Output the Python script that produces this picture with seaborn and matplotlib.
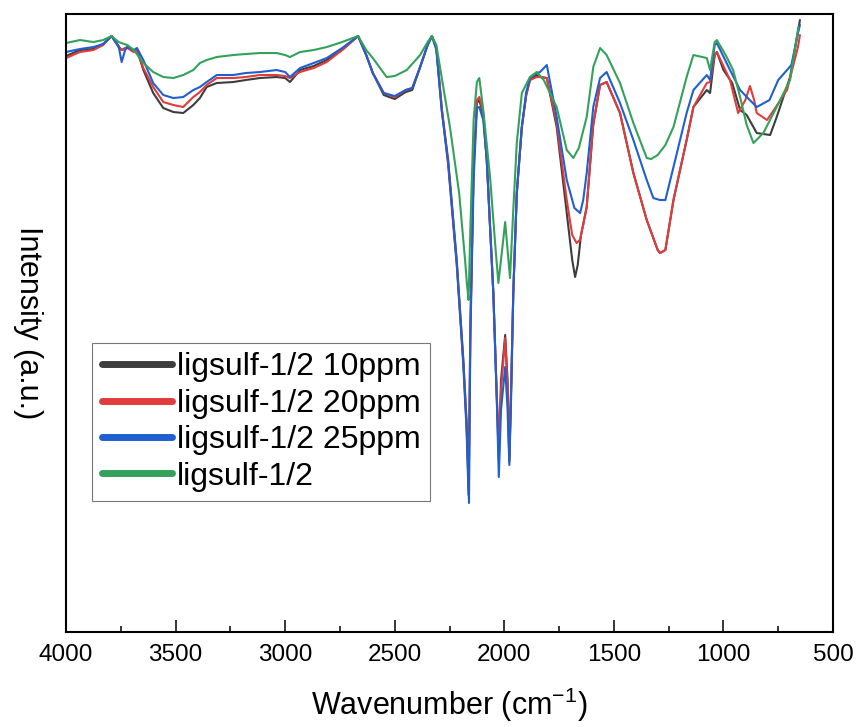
import matplotlib
matplotlib.use('Agg')
import matplotlib.pyplot as plt
import seaborn as sns
import pandas as pd
from matplotlib.ticker import MultipleLocator

# FTIR spectra (wavenumber in cm-1, transmittance in arbitrary units)
wn_10ppm = [4000, 3936, 3875, 3830, 3792, 3760, 3746, 3720, 3690, 3676, 3647, 3602, 3556, 3510, 3465, 3419,
            3389, 3358, 3312, 3237, 3180, 3115, 3039, 3000, 2978, 2932, 2870, 2810, 2740, 2667, 2630, 2600,
            2550, 2500, 2450, 2420, 2384, 2350, 2330, 2310, 2285, 2256, 2217, 2187, 2172, 2163, 2155, 2140,
            2125, 2114, 2096, 2080, 2050, 2035, 2025, 2015, 1996, 1985, 1977, 1968, 1959, 1943, 1920, 1900,
            1883, 1852, 1837, 1806, 1761, 1715, 1690, 1677, 1665, 1650, 1624, 1594, 1563, 1533, 1472, 1411,
            1350, 1300, 1289, 1265, 1228, 1168, 1137, 1076, 1061, 1040, 1030, 1000, 960, 924, 894, 848,
            787, 757, 696, 651]
t_10ppm = [576, 582, 583, 588, 596, 585, 582, 585, 580, 582, 562, 539, 524, 520, 519, 527,
           534, 545, 549, 550, 552, 554, 555, 554, 550, 562, 566, 572, 582, 596, 577, 559,
           537, 533, 540, 542, 565, 587, 596, 584, 522, 467, 367, 267, 202, 137, 302, 467,
           529, 532, 517, 472, 339, 239, 172, 252, 297, 252, 172, 252, 339, 439, 505, 537,
           552, 557, 555, 554, 505, 419, 372, 355, 367, 397, 425, 507, 547, 550, 519, 459,
           412, 382, 379, 382, 432, 492, 525, 542, 539, 577, 580, 562, 549, 522, 517, 499,
           497, 515, 555, 612]

wn_20ppm = [4000, 3936, 3875, 3830, 3792, 3760, 3746, 3720, 3690, 3676, 3647, 3602, 3556, 3510, 3465, 3419,
            3389, 3358, 3312, 3237, 3180, 3115, 3039, 3000, 2978, 2932, 2870, 2810, 2740, 2667, 2630, 2600,
            2550, 2500, 2450, 2420, 2384, 2350, 2330, 2310, 2285, 2256, 2217, 2187, 2172, 2162, 2155, 2140,
            2125, 2114, 2096, 2080, 2050, 2035, 2025, 2015, 1996, 1985, 1977, 1968, 1959, 1943, 1920, 1900,
            1883, 1852, 1837, 1806, 1761, 1715, 1690, 1670, 1655, 1640, 1624, 1594, 1563, 1533, 1472, 1411,
            1350, 1300, 1289, 1265, 1228, 1168, 1137, 1076, 1061, 1040, 1030, 970, 933, 900, 879, 860,
            848, 801, 770, 710, 660, 651]
t_20ppm = [574, 580, 582, 587, 596, 586, 582, 584, 580, 582, 564, 545, 530, 527, 525, 535,
           540, 547, 554, 554, 555, 557, 557, 556, 554, 560, 564, 570, 582, 596, 577, 559,
           539, 535, 542, 544, 565, 587, 596, 584, 524, 470, 370, 272, 212, 147, 302, 462,
           532, 535, 520, 472, 339, 239, 192, 242, 294, 242, 170, 252, 339, 439, 505, 537,
           552, 555, 555, 554, 509, 432, 397, 389, 392, 407, 425, 509, 547, 550, 519, 459,
           412, 382, 379, 382, 432, 492, 525, 549, 550, 577, 580, 552, 519, 532, 546, 532,
           519, 512, 522, 542, 585, 597]

wn_25ppm = [4000, 3936, 3875, 3830, 3792, 3760, 3746, 3730, 3720, 3690, 3676, 3647, 3602, 3556, 3510, 3465,
            3419, 3389, 3358, 3312, 3237, 3180, 3115, 3039, 3000, 2978, 2932, 2870, 2810, 2740, 2667, 2630,
            2600, 2550, 2500, 2450, 2420, 2384, 2350, 2330, 2310, 2285, 2256, 2217, 2187, 2172, 2161, 2155,
            2140, 2125, 2114, 2096, 2080, 2050, 2035, 2025, 2015, 1996, 1985, 1977, 1968, 1959, 1943, 1920,
            1900, 1883, 1852, 1837, 1806, 1761, 1715, 1680, 1654, 1640, 1624, 1594, 1563, 1533, 1472, 1411,
            1350, 1320, 1290, 1265, 1228, 1168, 1137, 1076, 1061, 1040, 1030, 970, 924, 880, 848, 790,
            750, 690, 660, 651]
t_25ppm = [580, 583, 585, 588, 596, 586, 570, 582, 585, 582, 584, 572, 549, 537, 534, 535,
           542, 545, 550, 557, 557, 559, 560, 562, 560, 555, 564, 569, 574, 584, 596, 577,
           559, 539, 536, 542, 544, 565, 587, 596, 582, 520, 472, 372, 272, 207, 129, 292,
           452, 524, 525, 512, 472, 339, 239, 155, 222, 265, 222, 167, 242, 339, 439, 505,
           540, 554, 559, 560, 567, 515, 452, 424, 419, 432, 459, 525, 554, 560, 529, 492,
           452, 434, 432, 432, 465, 519, 542, 557, 552, 587, 589, 562, 542, 532, 525, 532,
           552, 567, 599, 607]

wn_blank = [4000, 3936, 3875, 3830, 3792, 3760, 3720, 3690, 3647, 3602, 3556, 3510, 3465, 3419, 3389, 3358,
            3312, 3237, 3180, 3115, 3039, 3000, 2978, 2932, 2870, 2810, 2740, 2667, 2630, 2600, 2537, 2500,
            2445, 2384, 2350, 2331, 2310, 2280, 2248, 2206, 2179, 2170, 2163, 2155, 2140, 2125, 2114, 2096,
            2065, 2042, 2027, 2010, 1996, 1985, 1974, 1959, 1943, 1920, 1883, 1852, 1820, 1761, 1715, 1685,
            1660, 1624, 1594, 1563, 1533, 1472, 1411, 1350, 1330, 1300, 1265, 1228, 1168, 1137, 1076, 1061,
            1040, 1030, 990, 956, 924, 894, 863, 818, 757, 696, 658]
t_blank = [589, 592, 590, 592, 596, 590, 587, 582, 569, 560, 555, 554, 557, 562, 569, 572,
           575, 577, 578, 579, 579, 577, 575, 580, 582, 585, 590, 596, 582, 574, 555, 556,
           562, 577, 590, 596, 587, 547, 505, 439, 372, 347, 332, 402, 512, 550, 554, 522,
           455, 389, 349, 382, 410, 382, 354, 422, 489, 539, 555, 560, 552, 525, 482, 474,
           484, 515, 565, 584, 577, 549, 509, 474, 473, 477, 487, 505, 555, 577, 574, 562,
           590, 592, 577, 562, 535, 507, 489, 499, 525, 552, 605]

labels = ['ligsulf-1/2 10ppm', 'ligsulf-1/2 20ppm', 'ligsulf-1/2 25ppm', 'ligsulf-1/2']
colors = ['#3d3d3d', '#e23b3b', '#1f5fcf', '#34a15b']

sns.set_style('ticks')
plt.rcParams['font.family'] = ['Liberation Sans', 'DejaVu Sans']

fig = plt.figure(figsize=(8.58, 7.27), dpi=100)
ax = fig.add_axes([0.0769, 0.1307, 0.894, 0.850])

series = [(wn_10ppm, t_10ppm), (wn_20ppm, t_20ppm), (wn_25ppm, t_25ppm), (wn_blank, t_blank)]
for (x, y), lab, col in zip(series, labels, colors):
    df = pd.DataFrame({'wn': x, 't': y})
    sns.lineplot(data=df, x='wn', y='t', color=col, linewidth=1.5, label=lab, ax=ax)

ax.set_xlim(4000, 500)
ax.set_ylim(0, 618)
ax.set_yticks([])
ax.xaxis.set_major_locator(MultipleLocator(500))
ax.xaxis.set_minor_locator(MultipleLocator(250))
ax.tick_params(axis='x', which='major', direction='in', length=8.6, width=1.1,
               labelsize=17.5, pad=9, color='black', labelcolor='black')
ax.tick_params(axis='x', which='minor', direction='in', length=4.3, width=1.1, color='black')
ax.tick_params(axis='y', left=False)
for sp in ax.spines.values():
    sp.set_visible(True)
    sp.set_linewidth(1.5)
    sp.set_color('black')

ax.set_xlabel('Wavenumber (cm$^{\\mathregular{-1}}$)', fontsize=22, labelpad=14, color='black')
ax.set_ylabel('Intensity (a.u.)', fontsize=22, rotation=270, va='center', ha='center', color='black')
ax.yaxis.set_label_coords(-0.05, 0.5)

leg = ax.legend(loc='upper left', bbox_to_anchor=(0.034, 0.468), fontsize=23, frameon=True,
                fancybox=False, edgecolor='#555555', handlelength=2.2, handletextpad=0.15,
                labelspacing=0.2, borderpad=0.3, borderaxespad=0)
leg.get_frame().set_linewidth(0.8)
for text in leg.get_texts():
    text.set_color('black')
for line in leg.get_lines():
    line.set_linewidth(5)
    line.set_solid_capstyle('round')

fig.savefig('out.png', dpi=100)
